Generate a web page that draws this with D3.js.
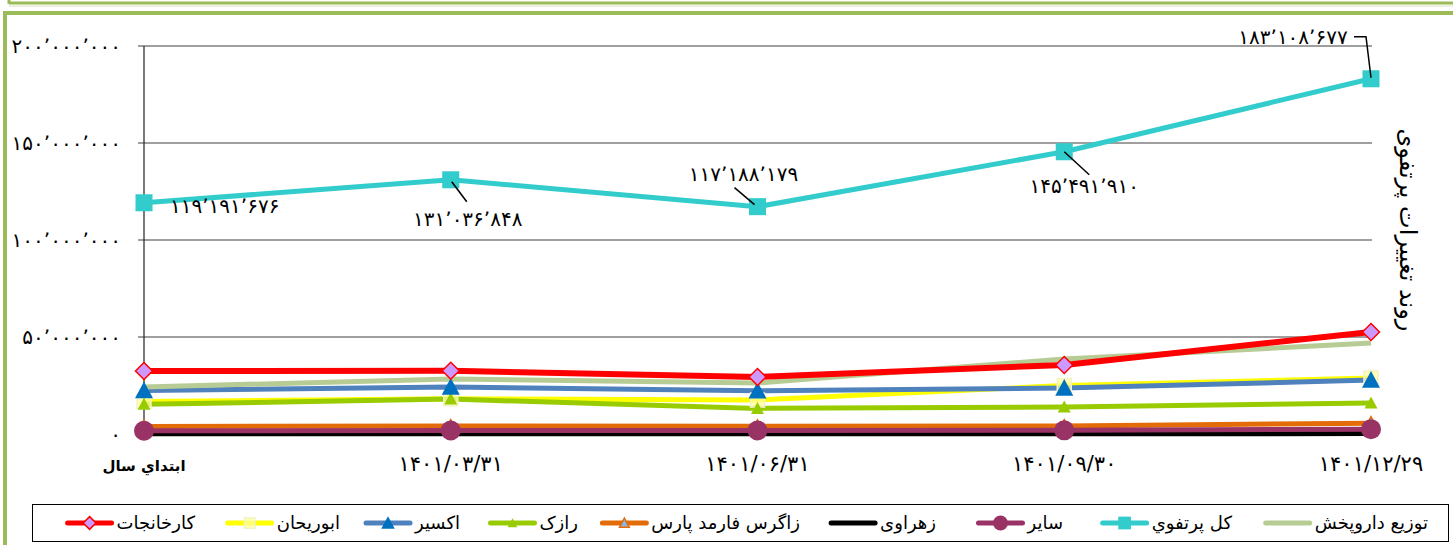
<!DOCTYPE html>
<html>
<head>
<meta charset="utf-8">
<script src="https://cdn.jsdelivr.net/npm/d3@7"></script>
<style>
    body { margin: 0; background: #fff; }
    svg { display: block; }
</style>
</head>
<body>
<svg id="chart"></svg>
<script>
const width = 1453,
    height = 545;

// categories (x axis)
const categories = ['ابتداي سال', '۱۴۰۱/۰۳/۳۱', '۱۴۰۱/۰۶/۳۱', '۱۴۰۱/۰۹/۳۰', '۱۴۰۱/۱۲/۲۹'];

// series values (rial)
const karkhanejat = [32500000, 32600000, 29400000, 35600000, 52600000];
const abourihan = [16800000, 18200000, 17500000, 25000000, 28900000];
const exir = [22400000, 24200000, 22300000, 23700000, 27800000];
const razak = [15300000, 18000000, 13200000, 13900000, 16000000];
const zagros = [3900000, 4100000, 4000000, 4100000, 5600000];
const zahravi = [100000, 100000, 100000, 100000, 200000];
const sayer = [1700000, 1800000, 1800000, 1900000, 2500000];
const kolPortfo = [119191676, 131036848, 117188179, 145491910, 183108677];
const touzi = [24200000, 28400000, 26300000, 38700000, 46900000];

const yTicks = [0, 50000000, 100000000, 150000000, 200000000];

const axisTitle = 'روند تغییرات پرتفوی';

// legend order as drawn left -> right
const legendOrder = ['کارخانجات', 'ابوریحان', 'اکسیر', 'رازک', 'زاگرس فارمد پارس', 'زهراوی', 'ساير', 'کل پرتفوي', 'توزیع داروپخش'];

const series = [
    { name: 'زهراوی', values: zahravi, color: '#000000', marker: null },
    { name: 'زاگرس فارمد پارس', values: zagros, color: '#E36C09', marker: 'triangleSmall', mfill: '#8DB4E2', mstroke: '#E36C09' },
    { name: 'ساير', values: sayer, color: '#993366', marker: 'circle', mfill: '#993366' },
    { name: 'ابوریحان', values: abourihan, color: '#FFFF00', marker: 'square', mfill: '#FFFF99', mstroke: '#F2F2C8', mopacity: 0.75 },
    { name: 'رازک', values: razak, color: '#99CC00', marker: 'triangleSmall', mfill: '#99CC00' },
    { name: 'اکسیر', values: exir, color: '#4F81BD', marker: 'triangle', mfill: '#0070C0' },
    { name: 'توزیع داروپخش', values: touzi, color: '#B7CC94', marker: null },
    { name: 'کارخانجات', values: karkhanejat, color: '#FF0000', marker: 'diamond', mfill: '#CC99FF', mstroke: '#FF0000' },
    { name: 'کل پرتفوي', values: kolPortfo, color: '#33CCCC', marker: 'squareBig', mfill: '#33CCCC' },
];

const faDigits = '۰۱۲۳۴۵۶۷۸۹';
function toFa(s) {
    return String(s).replace(/[0-9]/g, (d) => faDigits[+d]);
}
function fmt(v) {
    return toFa(d3.format(',')(v)).replace(/,/g, '٬');
}

const svg = d3.select('#chart').attr('width', width).attr('height', height);

// green frame
svg.append('line').attr('x1', 9).attr('x2', width).attr('y1', 3).attr('y2', 3).attr('stroke', '#9BBB59').attr('stroke-width', 3);
svg.append('line').attr('x1', 9).attr('x2', 9).attr('y1', 0).attr('y2', 4).attr('stroke', '#9BBB59').attr('stroke-width', 3);
svg.append('line').attr('x1', 9).attr('x2', width).attr('y1', 6).attr('y2', 6).attr('stroke', '#D7E4BD').attr('stroke-width', 1);
svg.append('rect')
    .attr('x', 5).attr('y', 13)
    .attr('width', width + 20).attr('height', height)
    .attr('fill', 'none').attr('stroke', '#9BBB59').attr('stroke-width', 4);

const x = d3.scalePoint().domain(categories).range([144, 1371]);
const y = d3.scaleLinear().domain([0, 200000000]).range([434, 46]);

// grid lines
svg.append('g')
    .selectAll('line')
    .data(yTicks.slice(1))
    .enter()
    .append('line')
    .attr('x1', 138).attr('x2', 1372)
    .attr('y1', (d) => y(d)).attr('y2', (d) => y(d))
    .attr('stroke', '#404040').attr('stroke-width', 1.2);

// y axis line + zero line
svg.append('line').attr('x1', 144).attr('x2', 144).attr('y1', y(200000000)).attr('y2', 438).attr('stroke', '#222').attr('stroke-width', 1.2);
svg.append('line').attr('x1', 138).attr('x2', 1372).attr('y1', y(0)).attr('y2', y(0)).attr('stroke', '#222').attr('stroke-width', 1.2);

// y tick labels
svg.append('g')
    .selectAll('text')
    .data(yTicks)
    .enter()
    .append('text')
    .attr('x', 121)
    .attr('y', (d) => y(d) + 7)
    .attr('text-anchor', 'end')
    .style('font-family', 'DejaVu Sans')
    .style('font-size', '20px')
    .text((d) => fmt(d));

// x labels
svg.append('g')
    .selectAll('text')
    .data(categories)
    .enter()
    .append('text')
    .attr('x', (d) => x(d))
    .attr('y', 471)
    .attr('text-anchor', 'middle')
    .style('font-family', 'DejaVu Sans')
    .style('font-size', (d, i) => (i === 0 ? '15px' : '21px'))
    .style('font-weight', (d, i) => (i === 0 ? 'bold' : 'normal'))
    .text((d) => d);

// axis title (rotated, right side)
svg.append('text')
    .attr('transform', 'translate(1400,230) rotate(90)')
    .attr('text-anchor', 'middle')
    .style('font-family', 'DejaVu Sans')
    .style('font-size', '24px')
    .text(axisTitle);

function drawMarker(g, type, cx, cy, s, scale) {
    const k = scale || 1;
    let m;
    if (type === 'diamond') {
        const r = 8.5 * k;
        m = g.append('path').attr('d', `M${cx},${cy - r}L${cx + r},${cy}L${cx},${cy + r}L${cx - r},${cy}Z`);
    } else if (type === 'triangle') {
        const r = 9 * k;
        m = g.append('path').attr('d', `M${cx},${cy - r}L${cx + r},${cy + r * 0.85}L${cx - r},${cy + r * 0.85}Z`);
    } else if (type === 'triangleSmall') {
        const r = 6.5 * k;
        m = g.append('path').attr('d', `M${cx},${cy - r}L${cx + r},${cy + r * 0.85}L${cx - r},${cy + r * 0.85}Z`);
    } else if (type === 'circle') {
        m = g.append('circle').attr('cx', cx).attr('cy', cy).attr('r', 10 * k);
    } else if (type === 'square') {
        const r = 7 * k;
        m = g.append('rect').attr('x', cx - r).attr('y', cy - r).attr('width', 2 * r).attr('height', 2 * r);
    } else if (type === 'squareBig') {
        const r = 8.5 * k;
        m = g.append('rect').attr('x', cx - r).attr('y', cy - r).attr('width', 2 * r).attr('height', 2 * r);
    }
    m.attr('fill', s.mfill)
        .attr('stroke', s.mstroke || 'none')
        .attr('stroke-width', s.mstroke ? 1.5 : 0)
        .attr('fill-opacity', s.mopacity || 1);
}

const line = d3.line()
    .x((d, i) => x(categories[i]))
    .y((d) => y(d));

const plot = svg.append('g');

series.forEach((s) => {
    plot.append('path')
        .datum(s.values)
        .attr('d', line)
        .attr('fill', 'none')
        .attr('stroke', s.color)
        .attr('stroke-width', s.name === 'کارخانجات' ? 6 : 5)
        .attr('stroke-linejoin', 'round');
});

series.forEach((s) => {
    if (!s.marker) return;
    s.values.forEach((v, i) => drawMarker(plot, s.marker, x(categories[i]), y(v), s));
});

// data labels on total portfolio
const labelPos = [
    { dx: 26, dy: 10, anchor: 'start', leader: null },
    { dx: 17, dy: 46, anchor: 'middle', leader: [[1, 2], [16, 22]] },
    { dx: -14, dy: -26, anchor: 'middle', leader: [[-23, -19], [-3, -2]] },
    { dx: 20, dy: 41, anchor: 'middle', leader: [[0, 0], [25, 23]] },
    { dx: -78, dy: -35, anchor: 'middle', leader: [[-17, -42], [-5, -42], [0, -1]] },
];
const labels = svg.append('g');
kolPortfo.forEach((v, i) => {
    const cx = x(categories[i]),
        cy = y(v),
        p = labelPos[i];
    if (p.leader) {
        labels.append('polyline')
            .attr('points', p.leader.map((q) => [cx + q[0], cy + q[1]].join(',')).join(' '))
            .attr('fill', 'none')
            .attr('stroke', '#000')
            .attr('stroke-width', 1.5);
    }
    labels.append('text')
        .attr('x', cx + p.dx)
        .attr('y', cy + p.dy)
        .attr('text-anchor', p.anchor)
        .style('font-family', 'DejaVu Sans')
        .style('font-size', '20px')
        .text(fmt(v));
});

// legend
const legend = svg.append('g');
legend.append('rect')
    .attr('x', 32.5).attr('y', 504.5)
    .attr('width', 1416).attr('height', 37)
    .attr('fill', '#fff').attr('stroke', '#000').attr('stroke-width', 1);

const legendTextEnd = [195, 340, 460, 578, 800, 936, 1063, 1232, 1428];
legendOrder.forEach((name, i) => {
    const s = series.find((e) => e.name === name);
    const t = legend.append('text')
        .attr('x', legendTextEnd[i])
        .attr('y', 529)
        .attr('text-anchor', 'end')
        .style('font-family', 'DejaVu Sans')
        .style('font-size', '18px')
        .text(name);
    const tw = t.node().getComputedTextLength();
    const x2 = legendTextEnd[i] - tw - 5,
        x1 = x2 - 44;
    legend.append('line')
        .attr('x1', x1).attr('x2', x2)
        .attr('y1', 523).attr('y2', 523)
        .attr('stroke', s.color).attr('stroke-width', 5)
        .attr('stroke-linecap', 'round');
    if (s.marker) drawMarker(legend, s.marker, (x1 + x2) / 2, 523, s, 0.75);
});
</script>
</body>
</html>
